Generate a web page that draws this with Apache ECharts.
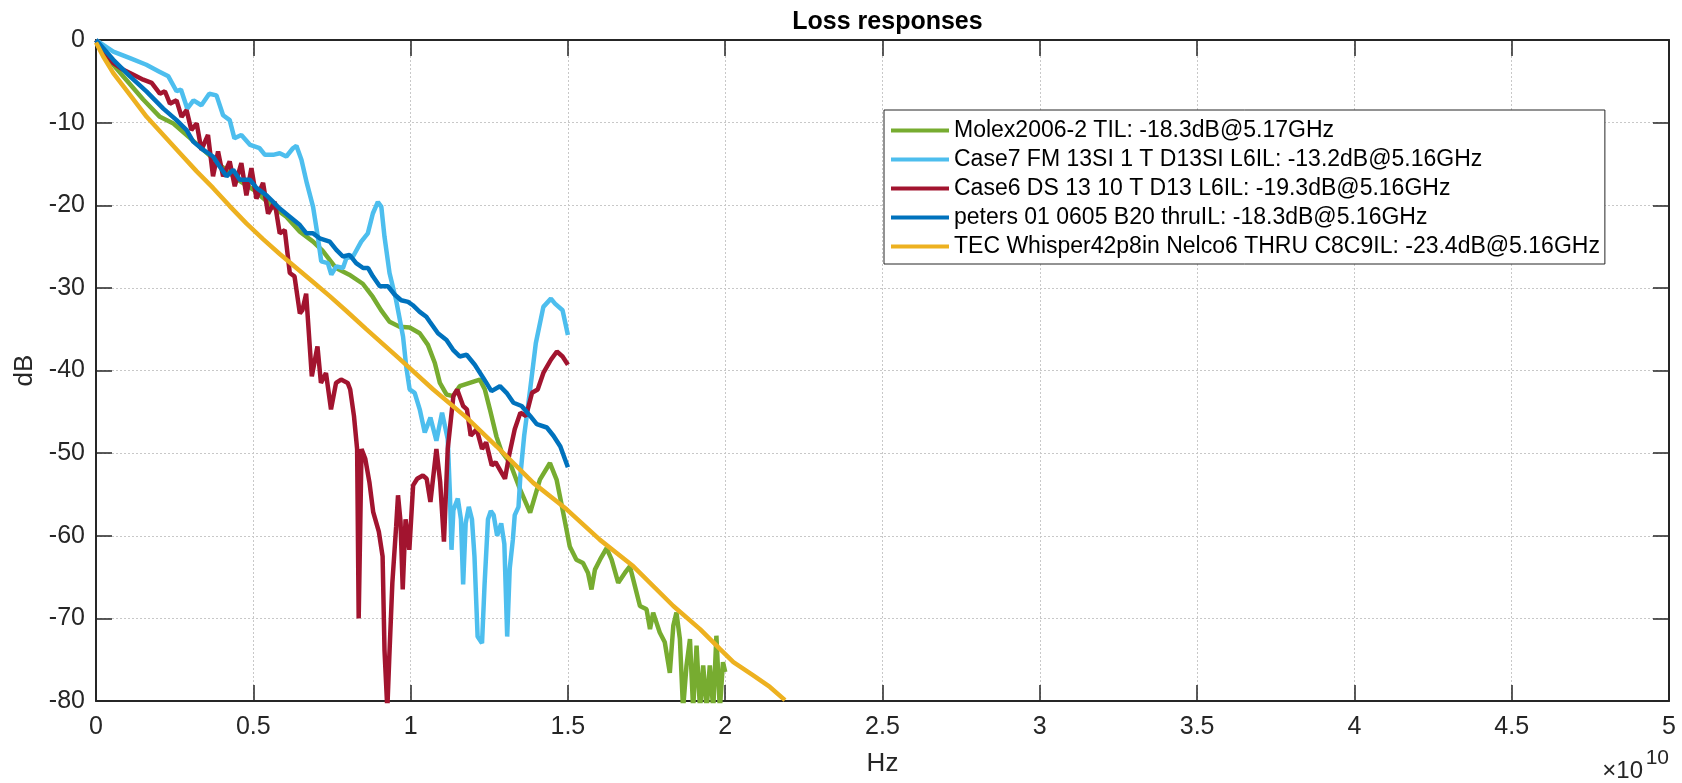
<!DOCTYPE html>
<html>
<head>
<meta charset="utf-8">
<title>Loss responses</title>
<script src="https://cdn.jsdelivr.net/npm/echarts@6/dist/echarts.min.js"></script>
<style>
  html, body { margin: 0; padding: 0; background: #fff; }
  #chart { width: 1682px; height: 783px; }
</style>
</head>
<body>
<div id="chart"></div>
<script>
// frequencies in GHz, losses in dB
const molexFreq = [0, 0.5, 1.0, 1.5, 2.03, 2.46, 3.0, 3.5, 4.0, 4.5, 5.0, 5.63, 6.05, 6.48, 6.9, 7.2, 7.63, 8.05, 8.48, 8.8, 9.06, 9.33, 9.65, 9.97, 10.29, 10.55, 10.77, 10.93, 11.14, 11.35, 11.56, 11.88, 12.2, 12.36, 12.52, 12.73, 12.89, 13.16, 13.48, 13.8, 14.11, 14.43, 14.64, 14.85, 15.06, 15.27, 15.48, 15.64, 15.75, 15.86, 16.02, 16.23, 16.39, 16.6, 16.81, 16.97, 17.13, 17.29, 17.5, 17.61, 17.71, 17.92, 18.08, 18.24, 18.35, 18.45, 18.56, 18.66, 18.77, 18.88, 18.98, 19.09, 19.2, 19.3, 19.41, 19.51, 19.62, 19.72, 19.83, 19.93, 20.0];
const molexDb = [0, -2.8, -5.0, -7.2, -9.3, -10.1, -11.9, -13.6, -15.3, -16.9, -18.1, -20.2, -21.4, -23.2, -24.4, -25.5, -27.6, -28.4, -29.5, -31.1, -32.7, -34.1, -34.7, -34.8, -35.5, -36.9, -39.1, -41.5, -42.9, -43.1, -41.9, -41.5, -41.1, -42.3, -44.7, -48.0, -49.8, -51.2, -54.4, -57.2, -53.2, -51.2, -53.2, -57.2, -61.3, -62.9, -63.3, -64.5, -66.5, -64.1, -62.9, -61.5, -62.9, -65.7, -64.5, -63.7, -66.1, -68.5, -68.9, -71.3, -69.3, -71.7, -72.9, -76.6, -70.9, -69.3, -72.5, -81, -75.7, -72.5, -81, -73.3, -81, -75.7, -81, -75.7, -81, -72.1, -81, -75.3, -76.5];

const case7Freq = [0, 0.55, 1.08, 1.6, 2.0, 2.3, 2.56, 2.7, 2.9, 3.1, 3.35, 3.6, 3.83, 4.04, 4.25, 4.4, 4.62, 4.9, 5.2, 5.37, 5.63, 5.84, 6.05, 6.26, 6.37, 6.53, 6.7, 6.9, 7.05, 7.16, 7.37, 7.48, 7.64, 7.85, 7.96, 8.17, 8.43, 8.64, 8.8, 8.96, 9.07, 9.17, 9.33, 9.54, 9.76, 9.86, 9.97, 10.13, 10.29, 10.45, 10.63, 10.82, 11.0, 11.18, 11.25, 11.3, 11.36, 11.5, 11.6, 11.67, 11.75, 11.85, 11.95, 12.03, 12.13, 12.27, 12.35, 12.46, 12.55, 12.64, 12.75, 12.88, 12.98, 13.07, 13.15, 13.25, 13.31, 13.43, 13.49, 13.61, 13.8, 13.98, 14.22, 14.46, 14.59, 14.83, 15.0];
const case7Db = [0, -1.4, -2.2, -3.0, -3.8, -4.4, -6.2, -6.0, -8.3, -7.3, -7.9, -6.5, -6.7, -9.1, -9.7, -11.9, -11.5, -12.7, -13.1, -13.9, -13.9, -13.7, -14.1, -13.1, -12.8, -14.5, -17.3, -20.2, -23.8, -26.8, -27.0, -28.4, -27.4, -27.6, -26.4, -26.2, -24.4, -23.4, -21.0, -19.6, -20.2, -23.8, -28.2, -31.5, -35.9, -39.5, -42.3, -42.7, -44.7, -47.5, -45.7, -48.5, -45.1, -48.3, -55, -61.7, -56.9, -55.5, -58, -65.9, -58.5, -56.5, -58, -62.5, -72.2, -73, -66, -58, -57, -57.5, -60, -58.5, -61, -72.2, -64, -60.5, -57.5, -56.5, -52.7, -47.9, -42.3, -36.7, -32.3, -31.3, -31.9, -32.7, -35.7];

const case6Freq = [0, 0.55, 0.87, 1.19, 1.5, 1.77, 2.03, 2.19, 2.35, 2.56, 2.72, 2.88, 3.03, 3.2, 3.35, 3.56, 3.72, 3.88, 4.04, 4.25, 4.41, 4.62, 4.78, 4.94, 5.1, 5.31, 5.47, 5.68, 5.84, 6.0, 6.16, 6.31, 6.48, 6.56, 6.68, 6.86, 7.04, 7.15, 7.31, 7.47, 7.63, 7.79, 8.0, 8.08, 8.2, 8.3, 8.35, 8.44, 8.56, 8.69, 8.81, 8.99, 9.11, 9.17, 9.26, 9.32, 9.42, 9.54, 9.6, 9.68, 9.75, 9.84, 9.96, 10.08, 10.21, 10.39, 10.51, 10.63, 10.82, 10.94, 11.06, 11.18, 11.36, 11.48, 11.67, 11.79, 11.91, 12.1, 12.27, 12.4, 12.58, 12.7, 12.88, 13.0, 13.13, 13.31, 13.49, 13.67, 13.86, 14.04, 14.22, 14.46, 14.65, 14.83, 15.0];
const case6Db = [0, -2.8, -3.6, -4.2, -4.8, -5.2, -6.5, -6.2, -7.7, -7.3, -9.3, -8.5, -10.9, -10.1, -13.3, -11.5, -16.5, -13.5, -16.5, -14.7, -17.7, -14.9, -18.8, -15.5, -19.2, -17.3, -21.0, -19.6, -23.4, -23.0, -28.2, -28.6, -33.1, -32.7, -30.7, -40.7, -37.1, -41.5, -40.3, -44.7, -41.5, -41.1, -41.5, -42.3, -45.5, -49.5, -70, -49.5, -50.7, -53.5, -57.1, -59.5, -62.5, -73.8, -81, -75, -65.7, -58.9, -55.1, -58.3, -66.5, -58, -61.7, -53.9, -53.1, -52.7, -53.1, -55.9, -49.5, -53.5, -60.7, -49.5, -43.1, -42.3, -44.3, -44.7, -47.9, -47.1, -49.5, -48.7, -51.5, -51.1, -52.3, -53.1, -50.3, -47.1, -45.1, -45.5, -42.7, -42.3, -40.3, -38.7, -37.7, -38.3, -39.3];

const petersFreq = [0, 0.55, 1.08, 1.61, 2.14, 2.56, 2.88, 3.09, 3.41, 3.72, 3.93, 4.15, 4.36, 4.57, 4.89, 5.1, 5.42, 5.63, 5.84, 6.16, 6.48, 6.69, 6.9, 7.11, 7.43, 7.64, 7.85, 8.06, 8.27, 8.49, 8.65, 8.8, 9.02, 9.28, 9.49, 9.7, 9.92, 10.07, 10.29, 10.5, 10.61, 10.87, 11.14, 11.35, 11.56, 11.78, 12.04, 12.31, 12.57, 12.84, 13.05, 13.27, 13.53, 13.8, 14.01, 14.33, 14.54, 14.76, 15.0];
const petersDb = [0, -2.4, -4.4, -6.25, -8.3, -9.7, -10.9, -12.3, -13.3, -14.1, -15.3, -16.5, -15.7, -16.9, -16.9, -17.9, -18.8, -19.6, -20.4, -21.4, -22.4, -23.4, -23.4, -24.0, -24.4, -25.4, -26.2, -26.0, -27.0, -27.6, -27.6, -28.6, -29.8, -29.8, -30.8, -31.5, -31.7, -32.1, -32.9, -33.5, -34.1, -35.5, -36.3, -37.5, -38.3, -38.1, -39.3, -40.9, -42.5, -41.9, -42.7, -43.9, -44.3, -45.5, -46.5, -46.9, -47.9, -49.2, -51.7];

const tecFreq = [0, 0.23, 0.55, 1.08, 1.61, 2.14, 2.67, 3.2, 3.72, 4.25, 4.78, 5.31, 5.84, 6.37, 6.9, 7.43, 7.96, 8.59, 9.65, 10.72, 11.78, 12.74, 13.9, 14.96, 16.02, 17.08, 18.35, 19.2, 19.83, 20.26, 20.89, 21.42, 21.9];
const tecDb = [-0.3, -2.0, -4.0, -6.65, -9.3, -11.5, -13.7, -15.9, -17.9, -20.1, -22.2, -24.1, -25.9, -27.6, -29.3, -31.0, -32.8, -35.0, -38.6, -42.3, -45.7, -49.2, -53.6, -56.8, -60.5, -63.7, -68.5, -71.3, -73.7, -75.3, -76.9, -78.3, -79.9];

const seriesNames = [
  'Molex2006-2 TIL: -18.3dB@5.17GHz',
  'Case7 FM 13SI 1 T D13SI L6IL: -13.2dB@5.16GHz',
  'Case6 DS 13 10 T D13 L6IL: -19.3dB@5.16GHz',
  'peters 01 0605 B20 thruIL: -18.3dB@5.16GHz',
  'TEC Whisper42p8in Nelco6 THRU C8C9IL: -23.4dB@5.16GHz'
];
const seriesColors = ['#77AC30', '#4DBEEE', '#A2142F', '#0072BD', '#EDB120'];
const xTickLabels = ['0', '0.5', '1', '1.5', '2', '2.5', '3', '3.5', '4', '4.5', '5'];

const font = '"Liberation Sans", Arial, Helvetica, sans-serif';
const axisColor = '#262626';

function pairs(freq, db) {
  return freq.map((f, i) => [f * 1e9, db[i]]);
}

const curves = [
  pairs(molexFreq, molexDb),
  pairs(case7Freq, case7Db),
  pairs(case6Freq, case6Db),
  pairs(petersFreq, petersDb),
  pairs(tecFreq, tecDb)
];

const plotLeft = 96, plotRight = 1669;

const chart = echarts.init(document.getElementById('chart'));

const baseX = {
  type: 'value',
  min: 0,
  max: 5e10,
  interval: 5e9,
  axisLine: { show: true, onZero: false, lineStyle: { color: axisColor, width: 2 } },
  axisTick: { show: true, inside: true, length: 16, lineStyle: { color: axisColor, width: 1.5 } }
};
const baseY = {
  type: 'value',
  min: -80,
  max: 0,
  interval: 10,
  axisLine: { show: true, onZero: false, lineStyle: { color: axisColor, width: 2 } },
  axisTick: { show: true, inside: true, length: 16, lineStyle: { color: axisColor, width: 1.5 } }
};
const gridLine = { show: true, lineStyle: { color: '#c8c8c8', type: [2, 2], width: 1 } };

chart.setOption({
  animation: false,
  backgroundColor: '#fff',
  color: seriesColors,
  title: {
    text: 'Loss responses',
    left: (plotLeft + plotRight) / 2,
    textAlign: 'center',
    top: 5,
    textStyle: { fontFamily: font, fontSize: 25, fontWeight: 'bold', color: '#000' }
  },
  grid: { left: plotLeft, right: 1682 - plotRight, top: 40, bottom: 82 },
  legend: {
    orient: 'vertical',
    left: 884,
    top: 110,
    icon: 'rect',
    itemWidth: 58,
    itemHeight: 4,
    itemGap: 6,
    padding: [9, 5, 6, 7],
    backgroundColor: '#fff',
    borderColor: axisColor,
    borderWidth: 1,
    textStyle: { fontFamily: font, fontSize: 23, lineHeight: 23, color: '#000' },
    data: seriesNames
  },
  xAxis: [
    Object.assign({}, baseX, {
      position: 'bottom',
      name: 'Hz',
      nameLocation: 'middle',
      nameGap: 50,
      nameTextStyle: { fontFamily: font, fontSize: 26, color: axisColor },
      axisLabel: {
        margin: 14,
        fontFamily: font,
        fontSize: 25,
        color: axisColor,
        formatter: v => xTickLabels[Math.round(v / 5e9)]
      },
      splitLine: gridLine
    }),
    Object.assign({}, baseX, {
      position: 'top',
      axisLabel: { show: false },
      splitLine: { show: false }
    })
  ],
  yAxis: [
    Object.assign({}, baseY, {
      position: 'left',
      name: 'dB',
      nameLocation: 'middle',
      nameGap: 53,
      nameRotate: 90,
      nameTextStyle: { fontFamily: font, fontSize: 26, color: axisColor },
      axisLabel: { margin: 11, fontFamily: font, fontSize: 25, color: axisColor },
      splitLine: gridLine
    }),
    Object.assign({}, baseY, {
      position: 'right',
      axisLabel: { show: false },
      splitLine: { show: false }
    })
  ],
  graphic: [
    {
      type: 'text',
      x: 1643,
      y: 771,
      style: {
        text: '\u00d710',
        fontFamily: font,
        fontSize: 24,
        fill: axisColor,
        textAlign: 'right',
        textVerticalAlign: 'middle'
      }
    },
    {
      type: 'text',
      x: 1669,
      y: 758,
      style: {
        text: '10',
        fontFamily: font,
        fontSize: 21,
        fill: axisColor,
        textAlign: 'right',
        textVerticalAlign: 'middle'
      }
    }
  ],
  series: curves.map((data, i) => ({
    name: seriesNames[i],
    type: 'line',
    xAxisIndex: 0,
    yAxisIndex: 0,
    data: data,
    showSymbol: false,
    symbol: 'none',
    clip: true,
    lineStyle: { width: 4.5, color: seriesColors[i] },
    itemStyle: { color: seriesColors[i] }
  }))
});
</script>
</body>
</html>
